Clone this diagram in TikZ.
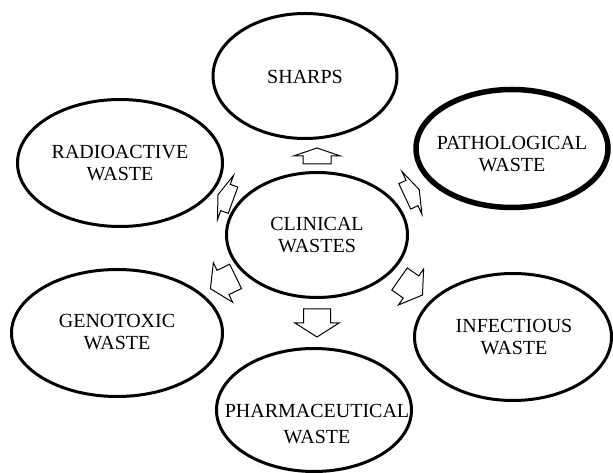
\documentclass[tikz,border=0pt]{standalone}
\usepackage{fontspec}
\setmainfont{Liberation Serif}
\begin{document}
\begin{tikzpicture}[x=1pt, y=1pt,
    lbl/.style={align=center, inner sep=0pt, font=\fontsize{20}{22}\selectfont},
    ring/.style={line width=3pt},
    pics/shortblk/.style={code={
      \draw[line width=1pt] (-8,-14) -- (0,-14) -- (0,-23.5) -- (8,0)
        -- (0,23.5) -- (0,14) -- (-8,14) -- cycle;}},
    pics/longblk/.style={code={
      \draw[line width=1pt] (-14,-13.5) -- (0,-13.5) -- (0,-22) -- (14,0)
        -- (0,22) -- (0,13.5) -- (-14,13.5) -- cycle;}}]
  \useasboundingbox (0,0) rectangle (613,473);
  \draw
    (317,238) node[lbl] (clin){CLINICAL\\WASTES}
    (305,396) node[lbl] (sharps){SHARPS}
    (120,310) node[lbl] (radio){RADIOACTIVE\\WASTE}
    (512,319) node[lbl] (patho){PATHOLOGICAL\\WASTE}
    (117,141) node[lbl] (geno){GENOTOXIC\\WASTE}
    (514,136) node[lbl] (infect){INFECTIOUS\\WASTE}
    (317,49) node[lbl, font=\fontsize{20}{26}\selectfont] (pharma){PHARMACEUTICAL\\WASTE};
  \begin{scope}[ring]
    \draw (clin.center) ellipse [x radius=90.5, y radius=62.5];
    \draw ([yshift=1pt]sharps.center) ellipse [x radius=92, y radius=62.5];
    \draw (radio.center) ellipse [x radius=102.5, y radius=63.5];
    \draw[line width=5.5pt] ([yshift=5.5pt]patho.center) ellipse [x radius=96, y radius=59];
    \draw ([yshift=-1pt]geno.center) ellipse [x radius=105.5, y radius=63.5];
    \draw ([xshift=-1pt]infect.center) ellipse [x radius=98.5, y radius=63.5];
    \draw ([xshift=-3pt, yshift=14pt]pharma.center) ellipse [x radius=97.5, y radius=61.5];
  \end{scope}
  % block arrows out of the centre
  \pic[rotate=90] at (317,317) {shortblk};
  \pic[rotate=25] at (412,280) {shortblk};
  \pic[rotate=160] at (225.5,275.5) {shortblk};
  \pic[rotate=-90] at (317,150) {longblk};
  \pic[rotate=-35] at (411,186) {longblk};
  \pic[rotate=206] at (223,190.5) {longblk};
\end{tikzpicture}
\end{document}
